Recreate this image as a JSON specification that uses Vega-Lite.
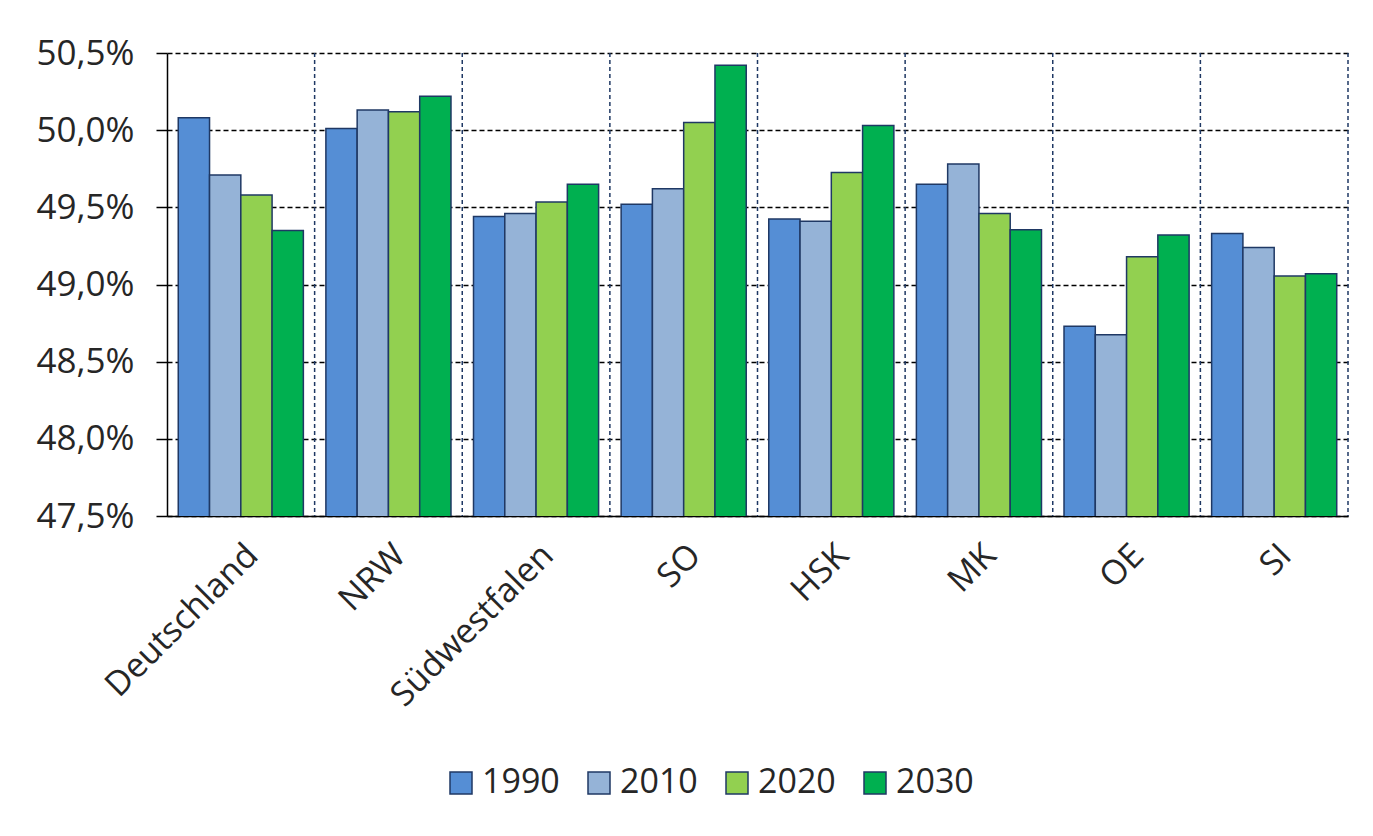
{
  "$schema": "https://vega.github.io/schema/vega-lite/v6.json",
  "width": 1181,
  "height": 463,
  "padding": {"left": 35, "top": 36, "right": 10, "bottom": 10},
  "background": "white",
  "config": {
    "view": {"stroke": null},
    "font": "Open Sans"
  },
  "datasets": {
    "shares": [
      {"region": "Deutschland", "year": "1990", "share": 50.08},
      {"region": "Deutschland", "year": "2010", "share": 49.71},
      {"region": "Deutschland", "year": "2020", "share": 49.58},
      {"region": "Deutschland", "year": "2030", "share": 49.35},
      {"region": "NRW", "year": "1990", "share": 50.01},
      {"region": "NRW", "year": "2010", "share": 50.13},
      {"region": "NRW", "year": "2020", "share": 50.12},
      {"region": "NRW", "year": "2030", "share": 50.22},
      {"region": "Südwestfalen", "year": "1990", "share": 49.44},
      {"region": "Südwestfalen", "year": "2010", "share": 49.46},
      {"region": "Südwestfalen", "year": "2020", "share": 49.535},
      {"region": "Südwestfalen", "year": "2030", "share": 49.65},
      {"region": "SO", "year": "1990", "share": 49.52},
      {"region": "SO", "year": "2010", "share": 49.62},
      {"region": "SO", "year": "2020", "share": 50.05},
      {"region": "SO", "year": "2030", "share": 50.42},
      {"region": "HSK", "year": "1990", "share": 49.425},
      {"region": "HSK", "year": "2010", "share": 49.41},
      {"region": "HSK", "year": "2020", "share": 49.725},
      {"region": "HSK", "year": "2030", "share": 50.03},
      {"region": "MK", "year": "1990", "share": 49.65},
      {"region": "MK", "year": "2010", "share": 49.78},
      {"region": "MK", "year": "2020", "share": 49.46},
      {"region": "MK", "year": "2030", "share": 49.355},
      {"region": "OE", "year": "1990", "share": 48.73},
      {"region": "OE", "year": "2010", "share": 48.675},
      {"region": "OE", "year": "2020", "share": 49.18},
      {"region": "OE", "year": "2030", "share": 49.32},
      {"region": "SI", "year": "1990", "share": 49.33},
      {"region": "SI", "year": "2010", "share": 49.24},
      {"region": "SI", "year": "2020", "share": 49.055},
      {"region": "SI", "year": "2030", "share": 49.07}
    ],
    "regions": [
      {"region": "Deutschland"}, {"region": "NRW"}, {"region": "Südwestfalen"},
      {"region": "SO"}, {"region": "HSK"}, {"region": "MK"}, {"region": "OE"}, {"region": "SI"}
    ]
  },
  "layer": [
    {
      "data": {"name": "regions"},
      "mark": {"type": "rule", "color": "#1F3864", "strokeDash": [4, 3], "strokeWidth": 1.5},
      "encoding": {
        "x": {
          "field": "region",
          "type": "nominal",
          "bandPosition": 1,
          "sort": ["Deutschland", "NRW", "Südwestfalen", "SO", "HSK", "MK", "OE", "SI"]
        }
      }
    },
    {
      "data": {"name": "shares"},
      "mark": {"type": "bar", "stroke": "#1F3864", "strokeWidth": 1.5, "clip": true},
      "encoding": {
        "x": {
          "field": "region",
          "type": "nominal",
          "sort": ["Deutschland", "NRW", "Südwestfalen", "SO", "HSK", "MK", "OE", "SI"],
          "scale": {"paddingInner": 0, "paddingOuter": 0},
          "axis": {
            "title": null,
            "labelAngle": -45,
            "labelAlign": "right",
            "labelBaseline": "top",
            "labelFontSize": 34,
            "labelColor": "#262626",
            "labelPadding": 22,
            "labelLimit": 0,
            "ticks": false,
            "domainColor": "black",
            "domainWidth": 1.5,
            "grid": false
          }
        },
        "xOffset": {
          "field": "year",
          "type": "nominal",
          "scale": {"paddingInner": 0, "paddingOuter": 0.36}
        },
        "y": {
          "field": "share",
          "type": "quantitative",
          "scale": {"domain": [47.5, 50.5], "zero": false, "nice": false},
          "axis": {
            "title": null,
            "values": [47.5, 48, 48.5, 49, 49.5, 50, 50.5],
            "labelExpr": "replace(format(datum.value, '.1f'), '.', ',') + '%'",
            "labelFontSize": 35,
            "labelColor": "#262626",
            "labelPadding": 22,
            "tickSize": 11,
            "tickColor": "black",
            "tickWidth": 1.5,
            "domainColor": "black",
            "domainWidth": 1.5,
            "grid": true,
            "gridColor": "black",
            "gridDash": [5, 3],
            "gridWidth": 1.5
          }
        },
        "color": {
          "field": "year",
          "type": "nominal",
          "scale": {
            "domain": ["1990", "2010", "2020", "2030"],
            "range": ["#558ED5", "#95B3D7", "#92D050", "#00B050"]
          },
          "legend": {
            "orient": "none",
            "legendX": 277,
            "legendY": 713,
            "direction": "horizontal",
            "title": null,
            "labelFontSize": 34,
            "labelColor": "#262626",
            "symbolType": "square",
            "symbolSize": 484,
            "symbolStrokeColor": "#1F3864",
            "symbolStrokeWidth": 1.5,
            "symbolOpacity": 1,
            "columnPadding": 22,
            "labelOffset": 4
          }
        }
      }
    }
  ]
}
